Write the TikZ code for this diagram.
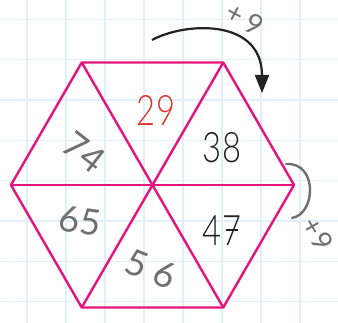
\documentclass[tikz,border=0pt]{standalone}
\usepackage{fontspec}
\setmainfont{Lato}
\newfontfamily\thinfont{Lato Light}
\usetikzlibrary{arrows.meta}
\definecolor{gridblue}{HTML}{E0F0FA}
\definecolor{hexpink}{HTML}{E6127E}
\definecolor{numred}{HTML}{E0322C}
\definecolor{pencil}{HTML}{707070}
\definecolor{ink}{HTML}{222222}
\begin{document}
\begin{tikzpicture}[x=1pt,y=-1pt,
  gridline/.style={gridblue,line width=1.3pt},
  hexline/.style={hexpink,line width=2.4pt,line join=round},
  printnum/.style={inner sep=0pt,text=ink,font=\thinfont\fontsize{42}{42}\selectfont,xscale=0.78,transform shape},
  hand/.style={inner sep=0pt,text=pencil,font=\fontsize{36}{36}\selectfont},
  smallhand/.style={inner sep=0pt,text=pencil,font=\fontsize{28}{28}\selectfont},
  pencilline/.style={pencil,line width=2.4pt,line cap=round},
  arrowline/.style={ink,line width=2.2pt,-{Triangle[length=18pt,width=14pt]}}]
\useasboundingbox (0,0) rectangle (338,323);
\fill[white] (0,0) rectangle (338,323);
% grid
\foreach \i in {0,...,7} \draw[gridline] ({27+39*\i},0) -- ({27+39*\i},323);
\foreach \j in {0,...,7} \draw[gridline] (0,{19.5+40.3*\j}) -- (338,{19.5+40.3*\j});
% hexagon
\coordinate (C) at (152.5,185);
\coordinate (L) at (11,185);
\coordinate (R) at (294,185);
\coordinate (TL) at (81.75,62.5);
\coordinate (TR) at (223.25,62.5);
\coordinate (BL) at (81.75,307.5);
\coordinate (BR) at (223.25,307.5);
\draw[hexline] (L) -- (TL) -- (TR) -- (R) -- (BR) -- (BL) -- cycle;
\draw[hexline] (TL) -- (BR);
\draw[hexline] (TR) -- (BL);
\draw[hexline] (L) -- (R);
% printed numbers
\node[printnum,text=numred] (n29) at (156,110) {29};
\node[printnum] (n38) at (222,148) {38};
\node[printnum] (n47) at (222,231) {47};
\draw[ink,line width=1.6pt] (226,230) -- (238,230);
% handwritten numbers
\node[hand,rotate=-38] (n74) at (84,152) {74};
\node[hand,rotate=-8] (n65) at (80,221) {65};
\node[hand,rotate=-22] (n56) at (151,269) {5\hspace{10pt}6};
\node[smallhand,rotate=-28] (p1) at (245,19) {+\hspace{6pt}9};
\node[smallhand,rotate=-60] (p2) at (318,234) {+\hspace{2pt}9};
% arrow
\coordinate (a1) at (152,40);
\coordinate (a2) at (262,93);
\draw[arrowline] (a1) .. controls (185,22) and (262,18) .. (a2);
% bracket
\coordinate (b1) at (286,164);
\coordinate (b2) at (292,218);
\draw[pencilline] (b1) .. controls (318,162) and (316,214) .. (b2);
\end{tikzpicture}
\end{document}
